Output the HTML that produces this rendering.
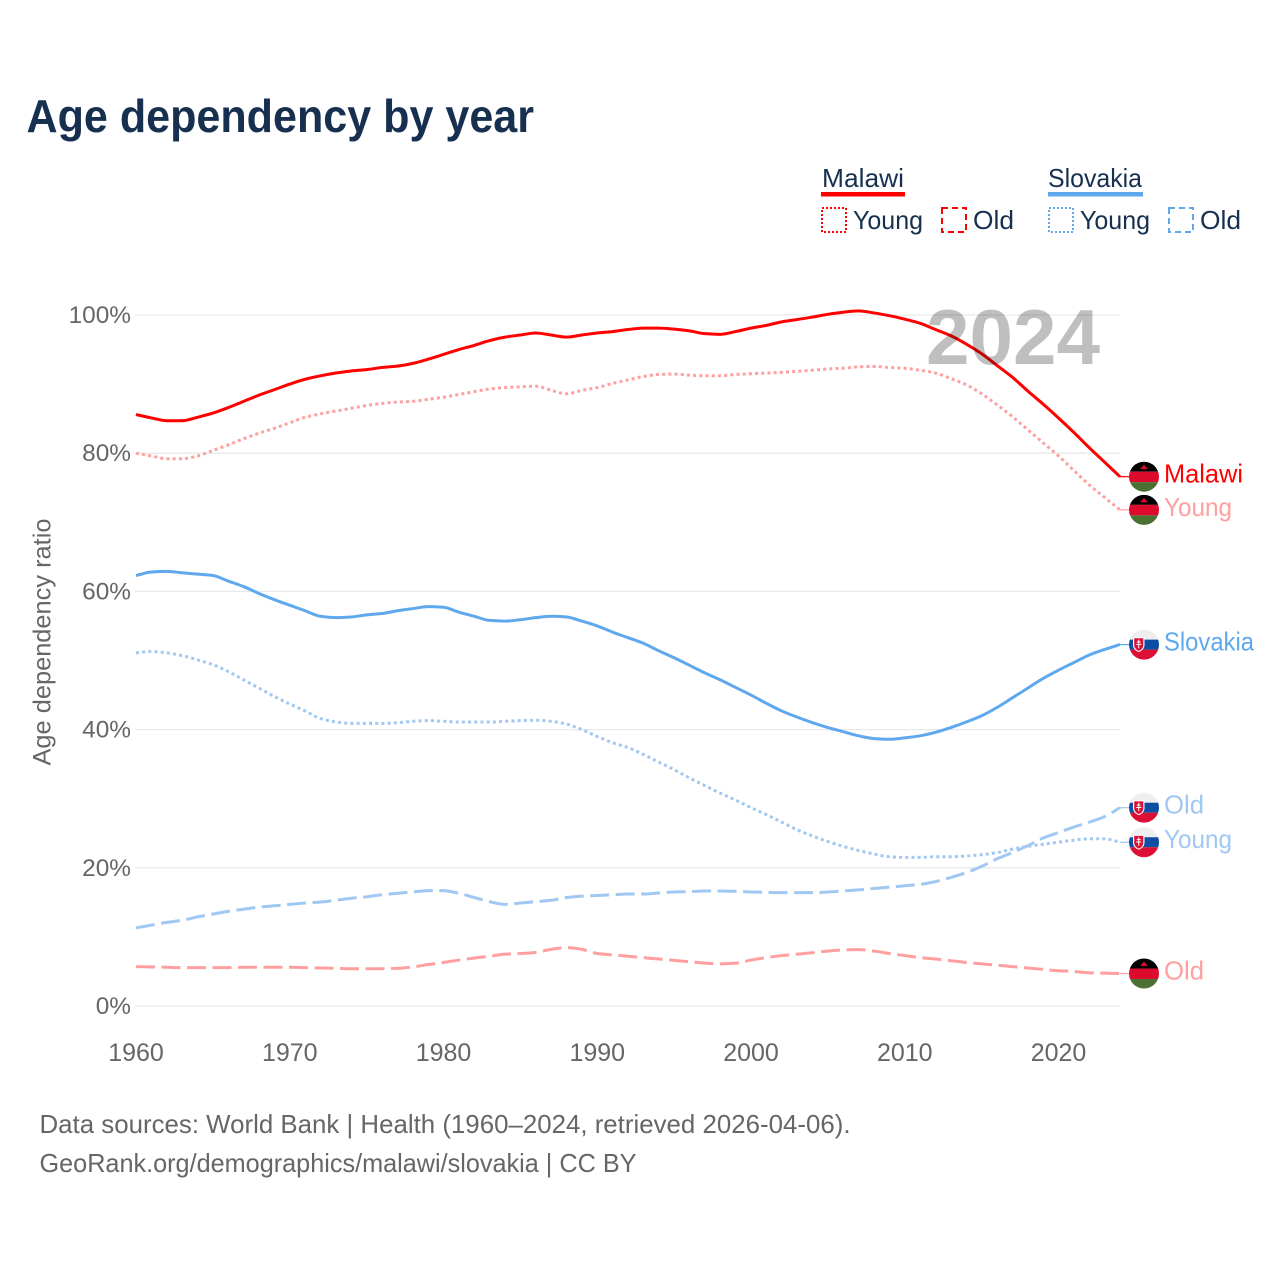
<!DOCTYPE html>
<html lang="en">
<head>
<meta charset="utf-8">
<title>Age dependency by year</title>
<style>
  html, body { margin: 0; padding: 0; background: #fff; }
  svg { display: block; font-family: "Liberation Sans", sans-serif; }
</style>
</head>
<body>
<svg id="chart" xmlns="http://www.w3.org/2000/svg" width="1280" height="1280" viewBox="0 0 1280 1280">
  <rect x="0" y="0" width="1280" height="1280" fill="#ffffff"/>
  <text x="26.5" y="132" font-size="46" font-weight="700" fill="#17304f" textLength="507.5" lengthAdjust="spacingAndGlyphs">Age dependency by year</text>

  <g font-size="26" fill="#17304f">
    <g>
      <text x="822" y="187" textLength="82" lengthAdjust="spacingAndGlyphs">Malawi</text>
      <rect x="821" y="192" width="84" height="4.5" fill="#ff0000"/>
      <rect x="822" y="208" width="24" height="24" fill="none" stroke="#ff0000" stroke-width="2" stroke-dasharray="2 2"/>
      <text x="853" y="229" textLength="70" lengthAdjust="spacingAndGlyphs">Young</text>
      <rect x="942" y="208" width="24" height="24" fill="none" stroke="#ff0000" stroke-width="2" stroke-dasharray="6 4"/>
      <text x="973" y="229" textLength="41" lengthAdjust="spacingAndGlyphs">Old</text>
    </g>
    <g>
      <text x="1048" y="187" textLength="94" lengthAdjust="spacingAndGlyphs">Slovakia</text>
      <rect x="1048" y="192" width="95" height="4.5" fill="#5fa8ee"/>
      <rect x="1049" y="208" width="24" height="24" fill="none" stroke="#5fa8ee" stroke-width="2" stroke-dasharray="2 2"/>
      <text x="1080" y="229" textLength="70" lengthAdjust="spacingAndGlyphs">Young</text>
      <rect x="1169" y="208" width="24" height="24" fill="none" stroke="#5fa8ee" stroke-width="2" stroke-dasharray="6 4"/>
      <text x="1200" y="229" textLength="41" lengthAdjust="spacingAndGlyphs">Old</text>
    </g>
  </g>

  <g id="grid"></g>
  <g id="yticks" font-size="24.4" fill="#666666" text-anchor="end"></g>
  <g id="xticks" font-size="25" fill="#666666" text-anchor="middle"></g>
  <text transform="translate(50.5,642) rotate(-90)" font-size="25" fill="#666666" text-anchor="middle" textLength="247" lengthAdjust="spacingAndGlyphs">Age dependency ratio</text>

  <g id="lines"></g>
  <text x="926" y="364" font-size="78" font-weight="700" fill="#000000" fill-opacity="0.25" textLength="174" lengthAdjust="spacingAndGlyphs">2024</text>
  <g id="endlabels"></g>

  <g font-size="26" fill="#666666">
    <text x="39.5" y="1133" textLength="811" lengthAdjust="spacingAndGlyphs">Data sources: World Bank | Health (1960–2024, retrieved 2026-04-06).</text>
    <text x="39.5" y="1172" textLength="597" lengthAdjust="spacingAndGlyphs">GeoRank.org/demographics/malawi/slovakia | CC BY</text>
  </g>
</svg>

<script>
const startYear = 1960;
const xTickYears = [1960, 1970, 1980, 1990, 2000, 2010, 2020];
const yTickValues = [0, 20, 40, 60, 80, 100];

const malawiTotal = [85.6,85.1,84.7,84.7,85.2,85.8,86.6,87.5,88.4,89.2,90.0,90.7,91.2,91.6,91.9,92.1,92.4,92.6,93.0,93.6,94.3,95.0,95.6,96.3,96.8,97.1,97.4,97.1,96.8,97.1,97.4,97.6,97.9,98.1,98.1,97.95,97.7,97.3,97.2,97.6,98.1,98.5,99.0,99.35,99.7,100.1,100.4,100.6,100.3,99.9,99.4,98.8,97.9,97.0,95.8,94.4,92.7,91.0,89.0,87.1,85.1,83.0,80.8,78.7,76.6];
const malawiYoung = [80.0,79.6,79.2,79.2,79.6,80.4,81.2,82.1,82.9,83.6,84.4,85.2,85.7,86.1,86.5,86.9,87.2,87.4,87.5,87.8,88.1,88.5,88.9,89.3,89.5,89.6,89.7,89.1,88.6,89.1,89.5,90.1,90.6,91.1,91.4,91.45,91.3,91.2,91.2,91.4,91.5,91.6,91.7,91.85,92.0,92.2,92.3,92.5,92.55,92.4,92.3,92.0,91.6,90.8,89.9,88.6,87.0,85.3,83.4,81.5,79.6,77.5,75.4,73.6,71.8];
const malawiOld = [5.7,5.65,5.6,5.55,5.55,5.55,5.55,5.6,5.6,5.6,5.6,5.55,5.5,5.45,5.4,5.4,5.4,5.45,5.65,6.0,6.3,6.65,6.95,7.2,7.5,7.6,7.75,8.2,8.45,8.2,7.6,7.4,7.2,7.0,6.8,6.6,6.4,6.2,6.1,6.2,6.65,7.0,7.3,7.5,7.7,7.95,8.1,8.15,7.95,7.6,7.3,7.0,6.8,6.55,6.3,6.1,5.9,5.7,5.5,5.3,5.1,5.0,4.8,4.75,4.7];
const slovakiaTotal = [62.3,62.8,62.9,62.7,62.5,62.3,61.5,60.7,59.7,58.8,58.0,57.2,56.4,56.2,56.3,56.6,56.8,57.2,57.5,57.8,57.7,57.0,56.4,55.8,55.7,55.9,56.2,56.4,56.3,55.7,55.0,54.1,53.3,52.5,51.4,50.4,49.3,48.2,47.2,46.1,45.0,43.8,42.7,41.8,41.0,40.3,39.7,39.1,38.7,38.6,38.8,39.1,39.6,40.3,41.1,42.0,43.2,44.6,46.0,47.4,48.6,49.7,50.8,51.6,52.3];
const slovakiaYoung = [51.1,51.3,51.1,50.7,50.1,49.4,48.4,47.2,46.0,44.8,43.7,42.7,41.6,41.1,40.9,40.9,40.9,41.0,41.2,41.3,41.2,41.1,41.1,41.1,41.2,41.3,41.35,41.2,40.8,40.0,39.0,38.1,37.4,36.4,35.3,34.2,33.0,31.9,30.8,29.8,28.7,27.7,26.6,25.5,24.6,23.8,23.1,22.5,22.0,21.6,21.5,21.5,21.6,21.6,21.7,21.9,22.2,22.7,23.1,23.4,23.7,24.0,24.2,24.2,23.7];
const slovakiaOld = [11.3,11.7,12.1,12.4,12.9,13.3,13.7,14.0,14.3,14.5,14.7,14.9,15.05,15.3,15.6,15.8,16.1,16.3,16.5,16.7,16.7,16.3,15.7,15.1,14.7,14.9,15.1,15.3,15.7,15.9,16.0,16.1,16.2,16.2,16.35,16.5,16.55,16.65,16.65,16.6,16.5,16.45,16.4,16.4,16.4,16.5,16.65,16.8,17.0,17.2,17.4,17.6,18.0,18.6,19.3,20.2,21.3,22.2,23.2,24.3,25.1,25.9,26.6,27.4,28.7];

const endLabels = ['Malawi', 'Young', 'Old', 'Slovakia', 'Young', 'Old'];

const X0 = 136, PX_PER_YEAR = 15.375, Y0 = 1006, PX_PER_PCT = 6.91;
function xScale(year) { return X0 + (year - startYear) * PX_PER_YEAR; }
function yScale(v) { return Y0 - v * PX_PER_PCT; }

/* Monotone cubic path through evenly spaced points */
function monotonePath(xs, ys) {
  const n = xs.length, m = [], s = [];
  for (let i = 0; i < n - 1; i++) s.push((ys[i + 1] - ys[i]) / (xs[i + 1] - xs[i]));
  m[0] = s[0];
  m[n - 1] = s[n - 2];
  for (let i = 1; i < n - 1; i++) {
    m[i] = s[i - 1] * s[i] <= 0 ? 0 : 2 * s[i - 1] * s[i] / (s[i - 1] + s[i]);
  }
  let d = 'M' + xs[0].toFixed(2) + ' ' + ys[0].toFixed(2);
  for (let i = 0; i < n - 1; i++) {
    const h = (xs[i + 1] - xs[i]) / 3;
    d += 'C' + (xs[i] + h).toFixed(2) + ' ' + (ys[i] + m[i] * h).toFixed(2) + ' ' +
         (xs[i + 1] - h).toFixed(2) + ' ' + (ys[i + 1] - m[i + 1] * h).toFixed(2) + ' ' +
         xs[i + 1].toFixed(2) + ' ' + ys[i + 1].toFixed(2);
  }
  return d;
}

const NS = 'http://www.w3.org/2000/svg';
function make(tag, attrs, parent) {
  const el = document.createElementNS(NS, tag);
  for (const k in attrs) el.setAttribute(k, attrs[k]);
  parent.appendChild(el);
  return el;
}

const gridG = document.getElementById('grid');
const yTicksG = document.getElementById('yticks');
const xTicksG = document.getElementById('xticks');
const linesG = document.getElementById('lines');
const labelsG = document.getElementById('endlabels');

yTickValues.forEach(function (v) {
  const line = make('line', { x1: 135, x2: 1120, y1: yScale(v), y2: yScale(v), stroke: '#e9e9e9', 'stroke-width': 1.3 }, gridG);
  
  
  const t = make('text', { x: 131, y: yScale(v) + 8 }, yTicksG);
  t.textContent = v + '%';
  
  
});

xTickYears.forEach(function (yr) {
  const t = make('text', { x: xScale(yr), y: 1061 }, xTicksG);
  t.textContent = String(yr);
  
  
});

const RED = '#ff0000', RED_L = '#ff9f9f', BLUE = '#5fa8ee', BLUE_L = '#a0c8f2';
const seriesDraw = [
  { key: 'malawi-total', values: malawiTotal, color: RED, width: 3, dash: '', country: 'malawi', label: endLabels[0], len: 79 },
  { key: 'malawi-young', values: malawiYoung, color: RED_L, width: 3, dash: '3 3.2', country: 'malawi', label: endLabels[1], len: 68 },
  { key: 'malawi-old', values: malawiOld, color: RED_L, width: 3, dash: '19 6.5', country: 'malawi', label: endLabels[2], len: 40 },
  { key: 'slovakia-total', values: slovakiaTotal, color: BLUE, width: 3, dash: '', country: 'slovakia', label: endLabels[3], len: 90 },
  { key: 'slovakia-young', values: slovakiaYoung, color: BLUE_L, width: 3, dash: '3 3.2', country: 'slovakia', label: endLabels[4], len: 68 },
  { key: 'slovakia-old', values: slovakiaOld, color: BLUE_L, width: 3, dash: '19 6.5', country: 'slovakia', label: endLabels[5], len: 40 }
];

const defs = make('defs', {}, document.getElementById('chart'));

function drawMalawiFlag(g, cx, cy, id) {
  const clip = make('clipPath', { id: id }, defs);
  make('circle', { cx: cx, cy: cy, r: 15 }, clip);
  const f = make('g', { 'clip-path': 'url(#' + id + ')' }, g);
  make('rect', { x: cx - 15, y: cy - 15, width: 30, height: 10, fill: '#000000' }, f);
  make('rect', { x: cx - 15, y: cy - 5, width: 30, height: 10.5, fill: '#dc0a2d' }, f);
  make('rect', { x: cx - 15, y: cy + 5.5, width: 30, height: 10, fill: '#4a7032' }, f);
  make('path', { d: 'M' + (cx - 3) + ' ' + (cy - 7.5) + 'l-0.4 -2.4l1.5 0.8l0.6 -1.6l1.3 -1.1l1.3 1.1l0.6 1.6l1.5 -0.8l-0.4 2.4z', fill: '#dc0a2d' }, f);
}

function drawSlovakiaFlag(g, cx, cy, id) {
  const clip = make('clipPath', { id: id }, defs);
  make('circle', { cx: cx, cy: cy, r: 15 }, clip);
  const f = make('g', { 'clip-path': 'url(#' + id + ')' }, g);
  make('rect', { x: cx - 15, y: cy - 15, width: 30, height: 10, fill: '#eeeeee' }, f);
  make('rect', { x: cx - 15, y: cy - 5, width: 30, height: 10, fill: '#0b4ea2' }, f);
  make('rect', { x: cx - 15, y: cy + 5, width: 30, height: 10.5, fill: '#dc0f35' }, f);
  make('path', { d: 'M' + (cx - 11) + ' ' + (cy - 7.5) + 'h11.5v8c0 3.5 -3 6 -5.75 7c-2.75 -1 -5.75 -3.5 -5.75 -7z', fill: '#ffffff' }, f);
  make('path', { d: 'M' + (cx - 9.8) + ' ' + (cy - 6.3) + 'h9.1v7c0 2.8 -2.3 4.8 -4.55 5.7c-2.25 -0.9 -4.55 -2.9 -4.55 -5.7z', fill: '#dc0f35' }, f);
  make('path', { d: 'M' + (cx - 5.25) + ' ' + (cy - 5) + 'v8.5M' + (cx - 7.2) + ' ' + (cy - 2.6) + 'h3.9M' + (cx - 7.8) + ' ' + (cy - 0.2) + 'h5.1', stroke: '#ffffff', 'stroke-width': 1, fill: 'none' }, f);
}

seriesDraw.forEach(function (s, i) {
  const xs = s.values.map(function (v, n) { return xScale(startYear + n); });
  const ys = s.values.map(function (v) { return yScale(v); });
  const path = make('path', { d: monotonePath(xs, ys), fill: 'none', stroke: s.color, 'stroke-width': s.width, 'stroke-linejoin': 'round' }, linesG);
  if (s.dash) path.setAttribute('stroke-dasharray', s.dash);
  
  

  const last = s.values[s.values.length - 1];
  const ly = yScale(last);
  const endX = xScale(startYear + s.values.length - 1);
  const conn = make('line', { x1: endX, x2: 1131, y1: ly, y2: ly, stroke: s.color, 'stroke-width': 1.2 }, labelsG);
  
  

  const flag = make('g', {}, labelsG);
  
  
  if (s.country === 'malawi') drawMalawiFlag(flag, 1144, ly, 'clip-' + i);
  else drawSlovakiaFlag(flag, 1144, ly, 'clip-' + i);

  const t = make('text', { x: 1164, y: ly + 6, 'font-size': 26, fill: s.color, textLength: s.len, lengthAdjust: 'spacingAndGlyphs' }, labelsG);
  t.textContent = s.label;
  
  
});
</script>
</body>
</html>
